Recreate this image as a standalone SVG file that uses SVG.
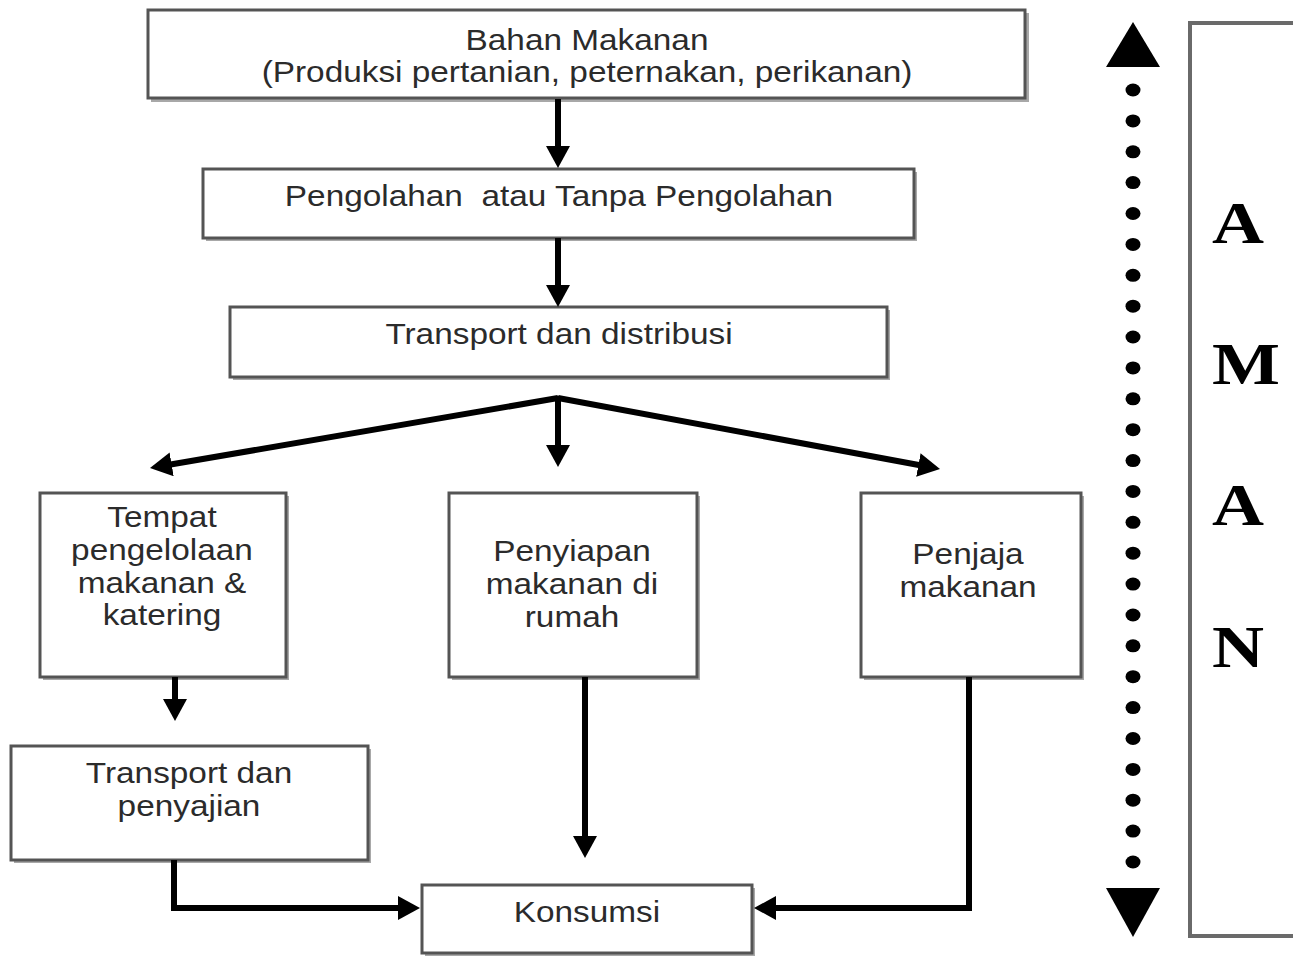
<svg xmlns="http://www.w3.org/2000/svg" width="1293" height="956" viewBox="0 0 1293 956">
<style>
.shadow{fill:#a8a8a8;}
.box{fill:#ffffff;stroke:#545454;stroke-width:3;}
.t{font-family:"Liberation Sans",Arial,sans-serif;font-size:29px;fill:#2b2b2b;text-anchor:middle;white-space:pre;}
.big{font-family:"Liberation Serif","Times New Roman",serif;font-size:60px;font-weight:bold;fill:#000;text-anchor:middle;}
.c{fill:none;stroke:#000;stroke-width:6;stroke-linecap:butt;stroke-linejoin:miter;}
</style>
<defs>
<marker id="ah" viewBox="0 0 22 24" refX="10" refY="12" markerWidth="22" markerHeight="24" markerUnits="userSpaceOnUse" orient="auto">
<path d="M0,0 L22,12 L0,24 Z" fill="#000"/>
</marker>
</defs>
<rect width="1293" height="956" fill="#ffffff"/>

<g id="n1">
<rect class="shadow" x="151" y="13" width="878" height="89"/>
<rect class="box" x="148" y="10" width="877" height="88"/>
<text class="t" transform="translate(587,50) scale(1.15,1)">Bahan Makanan</text>
<text class="t" transform="translate(587,82) scale(1.15,1)">(Produksi pertanian, peternakan, perikanan)</text>
</g>

<g id="n2">
<rect class="shadow" x="206" y="172" width="711" height="69"/>
<rect class="box" x="203" y="169" width="711" height="69"/>
<text class="t" transform="translate(559,206) scale(1.15,1)">Pengolahan  atau Tanpa Pengolahan</text>
</g>

<g id="n3">
<rect class="shadow" x="233" y="310" width="657" height="70"/>
<rect class="box" x="230" y="307" width="657" height="70"/>
<text class="t" transform="translate(559,344) scale(1.15,1)">Transport dan distribusi</text>
</g>

<g id="n4">
<rect class="shadow" x="43" y="496" width="246" height="184"/>
<rect class="box" x="40" y="493" width="246" height="184"/>
<text class="t" transform="translate(162,527) scale(1.15,1)">Tempat</text>
<text class="t" transform="translate(162,560) scale(1.15,1)">pengelolaan</text>
<text class="t" transform="translate(162,593) scale(1.15,1)">makanan &amp;</text>
<text class="t" transform="translate(162,625) scale(1.15,1)">katering</text>
</g>

<g id="n5">
<rect class="shadow" x="452" y="496" width="248" height="184"/>
<rect class="box" x="449" y="493" width="248" height="184"/>
<text class="t" transform="translate(572,561) scale(1.15,1)">Penyiapan</text>
<text class="t" transform="translate(572,594) scale(1.15,1)">makanan di</text>
<text class="t" transform="translate(572,627) scale(1.15,1)">rumah</text>
</g>

<g id="n6">
<rect class="shadow" x="864" y="496" width="220" height="184"/>
<rect class="box" x="861" y="493" width="220" height="184"/>
<text class="t" transform="translate(968,564) scale(1.15,1)">Penjaja</text>
<text class="t" transform="translate(968,597) scale(1.15,1)">makanan</text>
</g>

<g id="n7">
<rect class="shadow" x="14" y="749" width="357" height="114"/>
<rect class="box" x="11" y="746" width="357" height="114"/>
<text class="t" transform="translate(189,783) scale(1.15,1)">Transport dan</text>
<text class="t" transform="translate(189,816) scale(1.15,1)">penyajian</text>
</g>

<g id="n8">
<rect class="shadow" x="425" y="888" width="330" height="68"/>
<rect class="box" x="422" y="885" width="330" height="68"/>
<text class="t" transform="translate(587,922) scale(1.15,1)">Konsumsi</text>
</g>

<g id="connectors">
<line class="c" x1="558" y1="99" x2="558" y2="156" marker-end="url(#ah)"/>
<line class="c" x1="558" y1="238" x2="558" y2="295" marker-end="url(#ah)"/>
<line class="c" x1="558" y1="398" x2="161.8" y2="466" marker-end="url(#ah)"/>
<line class="c" x1="558" y1="398" x2="928.2" y2="466.8" marker-end="url(#ah)"/>
<line class="c" x1="558" y1="396" x2="558" y2="455" marker-end="url(#ah)"/>
<line class="c" x1="175" y1="677" x2="175" y2="709" marker-end="url(#ah)"/>
<line class="c" x1="585" y1="677" x2="585" y2="846" marker-end="url(#ah)"/>
<path class="c" d="M174,860 V908 H408" marker-end="url(#ah)"/>
<path class="c" d="M969,677 V908 H766" marker-end="url(#ah)"/>
</g>

<g id="aman-scale">
<polygon points="1133,22 1106,67 1160,67" fill="#000"/>
<polygon points="1106,888 1160,888 1133,937" fill="#000"/>
<g fill="#000">
<ellipse cx="1133" cy="90" rx="7.5" ry="6.5"/>
<ellipse cx="1133" cy="120.9" rx="7.5" ry="6.5"/>
<ellipse cx="1133" cy="151.8" rx="7.5" ry="6.5"/>
<ellipse cx="1133" cy="182.6" rx="7.5" ry="6.5"/>
<ellipse cx="1133" cy="213.5" rx="7.5" ry="6.5"/>
<ellipse cx="1133" cy="244.4" rx="7.5" ry="6.5"/>
<ellipse cx="1133" cy="275.3" rx="7.5" ry="6.5"/>
<ellipse cx="1133" cy="306.2" rx="7.5" ry="6.5"/>
<ellipse cx="1133" cy="337" rx="7.5" ry="6.5"/>
<ellipse cx="1133" cy="367.9" rx="7.5" ry="6.5"/>
<ellipse cx="1133" cy="398.8" rx="7.5" ry="6.5"/>
<ellipse cx="1133" cy="429.7" rx="7.5" ry="6.5"/>
<ellipse cx="1133" cy="460.6" rx="7.5" ry="6.5"/>
<ellipse cx="1133" cy="491.4" rx="7.5" ry="6.5"/>
<ellipse cx="1133" cy="522.3" rx="7.5" ry="6.5"/>
<ellipse cx="1133" cy="553.2" rx="7.5" ry="6.5"/>
<ellipse cx="1133" cy="584.1" rx="7.5" ry="6.5"/>
<ellipse cx="1133" cy="615" rx="7.5" ry="6.5"/>
<ellipse cx="1133" cy="645.8" rx="7.5" ry="6.5"/>
<ellipse cx="1133" cy="676.7" rx="7.5" ry="6.5"/>
<ellipse cx="1133" cy="707.6" rx="7.5" ry="6.5"/>
<ellipse cx="1133" cy="738.5" rx="7.5" ry="6.5"/>
<ellipse cx="1133" cy="769.4" rx="7.5" ry="6.5"/>
<ellipse cx="1133" cy="800.2" rx="7.5" ry="6.5"/>
<ellipse cx="1133" cy="831.1" rx="7.5" ry="6.5"/>
<ellipse cx="1133" cy="862" rx="7.5" ry="6.5"/>
</g>
</g>

<g id="aman">
<rect x="1190" y="23" width="160" height="913" fill="#fff" stroke="#6a6a6a" stroke-width="4"/>
<text class="big" transform="translate(1238,243) scale(1.2,1)">A</text>
<text class="big" transform="translate(1246,384) scale(1.2,1)">M</text>
<text class="big" transform="translate(1238,525) scale(1.2,1)">A</text>
<text class="big" transform="translate(1238,667) scale(1.2,1)">N</text>
</g>
</svg>
